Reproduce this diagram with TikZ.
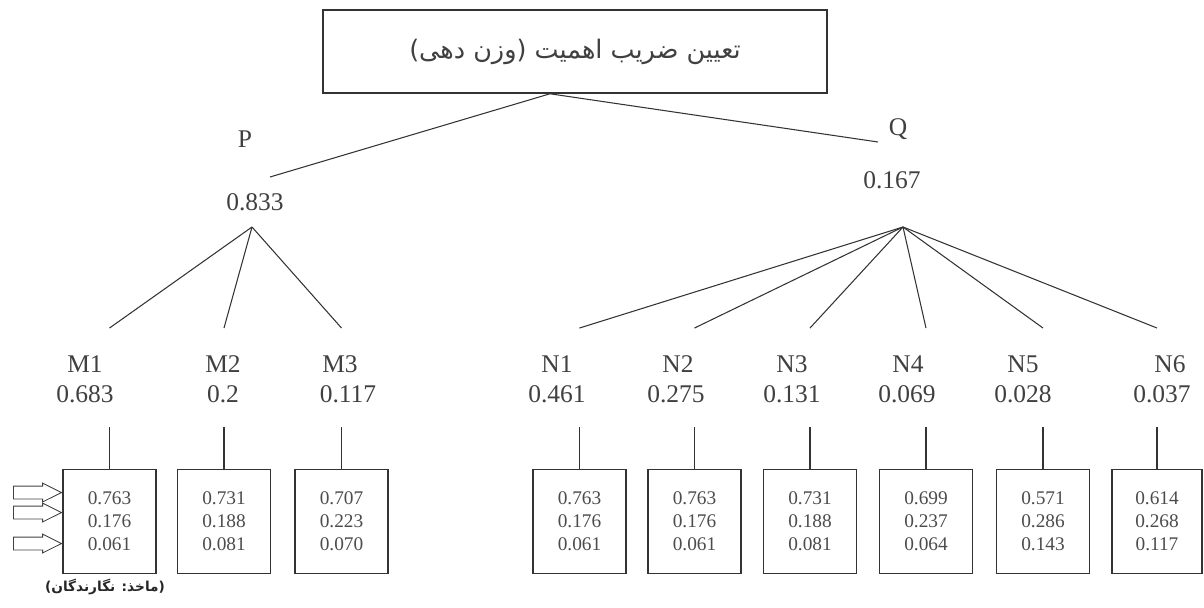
\documentclass[tikz,border=0pt]{standalone}
\usepackage{fontspec}
\setmainfont{Liberation Serif}
\newfontfamily\persianfont[Script=Arabic]{DejaVu Sans}
\TeXXeTstate=1
\usetikzlibrary{positioning, shapes.arrows}

\begin{document}
\begin{tikzpicture}[
    x=0.02cm, y=-0.02cm,
    link/.style={draw=black!80, line width=0.6pt},
    titlebox/.style={draw=black!80, line width=0.9pt, minimum width=10.08cm, minimum height=1.66cm, text=black!75, font=\persianfont\fontsize{14.5}{17}\selectfont},
    letter/.style={font=\fontsize{14.5}{17}\selectfont, text=black!75, inner sep=0pt, anchor=base},
    weight/.style={font=\fontsize{14.5}{17}\selectfont, text=black!75, inner sep=0pt, anchor=base},
    valbox/.style={draw=black!80, line width=0.6pt, align=center, minimum width=1.86cm, minimum height=2.08cm, anchor=north, text=black!70, font=\fontsize{11}{13.1}\selectfont},
    inarrow/.style={single arrow, draw=black!75, line width=0.5pt, inner xsep=0pt, inner ysep=0.12cm, single arrow head extend=0.06cm, single arrow tip angle=53, minimum height=0.96cm, anchor=tip}
]
\useasboundingbox (0,0) rectangle (1204,608);

\node[titlebox] (title) at (575,51.5) {\beginR تعیین ضریب اهمیت (وزن دهی)\endR};

\node[letter] (p) at (245,148) {P};
\node[weight] (pw) at (255,211) {0.833};
\node[letter] (q) at (898,135) {Q};
\node[weight] (qw) at (892,189) {0.167};
\coordinate (ptop) at (270,177);
\coordinate (qtop) at (878,142);
\coordinate (pfork) at (252,227);
\coordinate (qfork) at (903,227);

% first group
\node[letter] (m1) at (85,372) {M1};
\node[weight] (m1w) at (85,402) {0.683};
\node[letter] (m2) at (223,372) {M2};
\node[weight] (m2w) at (223,402) {0.2};
\node[letter] (m3) at (340,372) {M3};
\node[weight] (m3w) at (348,402) {0.117};

% second group
\node[letter] (n1) at (557,372) {N1};
\node[weight] (n1w) at (557,402) {0.461};
\node[letter] (n2) at (678,372) {N2};
\node[weight] (n2w) at (676,402) {0.275};
\node[letter] (n3) at (792,372) {N3};
\node[weight] (n3w) at (792,402) {0.131};
\node[letter] (n4) at (908,372) {N4};
\node[weight] (n4w) at (907,402) {0.069};
\node[letter] (n5) at (1023,372) {N5};
\node[weight] (n5w) at (1023,402) {0.028};
\node[letter] (n6) at (1170,372) {N6};
\node[weight] (n6w) at (1162,402) {0.037};

% value boxes
\node[valbox] (m1box) at (109.5,469) {0.763\\0.176\\0.061};
\node[valbox] (m2box) at (224,469) {0.731\\0.188\\0.081};
\node[valbox] (m3box) at (341.5,469) {0.707\\0.223\\0.070};
\node[valbox] (n1box) at (579.5,469) {0.763\\0.176\\0.061};
\node[valbox] (n2box) at (694.5,469) {0.763\\0.176\\0.061};
\node[valbox] (n3box) at (810,469) {0.731\\0.188\\0.081};
\node[valbox] (n4box) at (926,469) {0.699\\0.237\\0.064};
\node[valbox] (n5box) at (1043,469) {0.571\\0.286\\0.143};
\node[valbox, minimum width=1.8cm] (n6box) at (1157,469) {0.614\\0.268\\0.117};

\node[inarrow] (in1) at ([yshift=0.58cm]m1box.west) {};
\node[inarrow] (in2) at ([yshift=0.18cm]m1box.west) {};
\node[inarrow] (in3) at ([yshift=-0.44cm]m1box.west) {};

\node[font=\persianfont\bfseries\fontsize{7.8}{10}\selectfont, text=black!85] (source) at (105,587) {\beginR(ماخذ: نگارندگان)\endR};

\draw[link] ([xshift=-0.5cm]title.south) -- (ptop);
\draw[link] ([xshift=-0.5cm]title.south) -- (qtop);

\draw[link] (pfork) -- ([yshift=2.82cm]m1box.north);
\draw[link] (pfork) -- ([yshift=2.82cm]m2box.north);
\draw[link] (pfork) -- ([yshift=2.82cm]m3box.north);
\draw[link] (qfork) -- ([yshift=2.82cm]n1box.north);
\draw[link] (qfork) -- ([yshift=2.82cm]n2box.north);
\draw[link] (qfork) -- ([yshift=2.82cm]n3box.north);
\draw[link] (qfork) -- ([yshift=2.82cm]n4box.north);
\draw[link] (qfork) -- ([yshift=2.82cm]n5box.north);
\draw[link] (qfork) -- ([yshift=2.82cm]n6box.north);

\draw[link] (m1box.north) -- ++(0,-42);
\draw[link] (m2box.north) -- ++(0,-42);
\draw[link] (m3box.north) -- ++(0,-42);
\draw[link] (n1box.north) -- ++(0,-42);
\draw[link] (n2box.north) -- ++(0,-42);
\draw[link] (n3box.north) -- ++(0,-42);
\draw[link] (n4box.north) -- ++(0,-42);
\draw[link] (n5box.north) -- ++(0,-42);
\draw[link] (n6box.north) -- ++(0,-42);
\end{tikzpicture}
\end{document}
